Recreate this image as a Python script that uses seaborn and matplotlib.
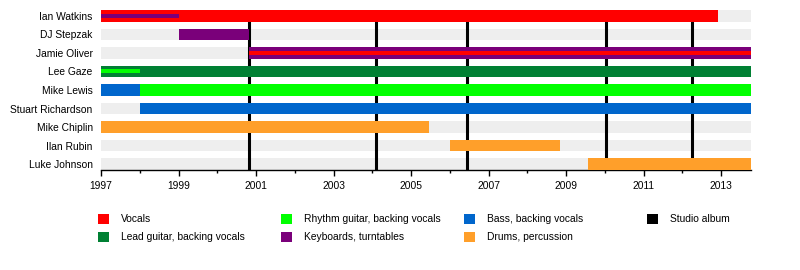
import matplotlib
matplotlib.use("Agg")
import matplotlib.pyplot as plt
from matplotlib.patches import Rectangle
import pandas as pd
import seaborn as sns

# Band members, top to bottom
members = ["Ian Watkins", "DJ Stepzak", "Jamie Oliver", "Lee Gaze", "Mike Lewis",
           "Stuart Richardson", "Mike Chiplin", "Ilan Rubin", "Luke Johnson"]

# Roles and their colours
roles = ["Vocals", "Lead guitar, backing vocals", "Rhythm guitar, backing vocals",
         "Keyboards, turntables", "Bass, backing vocals", "Drums, percussion"]
role_colors = ["#FF0000", "#008033", "#00FF00", "#7A007A", "#0066CC", "#FF9F2A"]

start_year = 1997.0
end_year = 2013.77

# Main tenures: member, role, start, end
span_member = ["Ian Watkins", "DJ Stepzak", "Jamie Oliver", "Lee Gaze", "Mike Lewis",
               "Mike Lewis", "Stuart Richardson", "Mike Chiplin", "Ilan Rubin", "Luke Johnson"]
span_role = ["Vocals", "Keyboards, turntables", "Keyboards, turntables",
             "Lead guitar, backing vocals", "Bass, backing vocals",
             "Rhythm guitar, backing vocals", "Bass, backing vocals",
             "Drums, percussion", "Drums, percussion", "Drums, percussion"]
span_start = [1997.0, 1999.0, 2000.81, 1997.0, 1997.0, 1998.0, 1998.0, 1997.0, 2006.0, 2009.56]
span_end = [2012.92, 2000.81, end_year, end_year, 1998.0, end_year, end_year, 2005.46, 2008.85, end_year]

# Secondary roles drawn as thin bars
sub_member = ["Ian Watkins", "Jamie Oliver", "Lee Gaze"]
sub_role = ["Keyboards, turntables", "Vocals", "Rhythm guitar, backing vocals"]
sub_start = [1997.0, 2000.81, 1997.0]
sub_end = [1999.0, end_year, 1998.0]

# Studio album release dates
albums = [2000.81, 2004.09, 2006.45, 2010.04, 2012.24]

spans = pd.DataFrame({"member": span_member, "role": span_role,
                      "start": span_start, "end": span_end})
subs = pd.DataFrame({"member": sub_member, "role": sub_role,
                     "start": sub_start, "end": sub_end})
palette = dict(zip(roles, role_colors))
row = {m: i for i, m in enumerate(members)}

sns.set_theme(style="white")
plt.rcParams["font.family"] = ["Liberation Sans", "DejaVu Sans"]

fig = plt.figure(figsize=(8, 2.7), dpi=100)
ax = fig.add_axes([101 / 800, 1 - 170 / 270, 650 / 800, 160 / 270])

bar_h = 0.625
thin_h = 0.22
fs = 7.4

# Light grey track behind every member
ax.barh([row[m] for m in members], end_year - start_year, left=start_year,
        height=bar_h, color="#EEEEEE", edgecolor="none", linewidth=0, zorder=1)

# Album release markers
ax.vlines(albums, -0.5, 8.5, colors="black", linewidth=2.2, zorder=2)

for _, r in spans.iterrows():
    ax.barh(row[r.member], r.end - r.start, left=r.start, height=bar_h,
            color=palette[r.role], edgecolor="none", linewidth=0, zorder=3)
for _, r in subs.iterrows():
    ax.barh(row[r.member], r.end - r.start, left=r.start, height=thin_h,
            color=palette[r.role], edgecolor="none", linewidth=0, zorder=4)

ax.set_xlim(start_year, end_year)
ax.set_ylim(8.31, -0.31)
ax.set_yticks(range(len(members)))
ax.set_yticklabels(members)
ax.set_xticks(range(1997, 2014, 2))
ax.set_xticks(range(1997, 2014), minor=True)
ax.tick_params(axis="y", length=0, pad=6, labelsize=fs, colors="black")
ax.tick_params(axis="x", which="major", length=4, width=1, pad=4,
               labelsize=fs, colors="black", bottom=True)
ax.tick_params(axis="x", which="minor", length=2, width=1, bottom=True,
               color="black")
for side in ["top", "right", "left"]:
    ax.spines[side].set_visible(False)
ax.spines["bottom"].set_color("black")
ax.spines["bottom"].set_linewidth(1)
ax.grid(False)

# Legend laid out in four fixed-width columns
legend_labels = roles + ["Studio album"]
legend_colors = role_colors + ["#000000"]
legend_cells = [(0, 0), (0, 1), (1, 0), (1, 1), (2, 0), (2, 1), (3, 0)]
for lab, col, (c, rr) in zip(legend_labels, legend_colors, legend_cells):
    x0 = 98 + 183 * c
    yc = 219 + 18 * rr
    fig.add_artist(Rectangle((x0 / 800, 1 - (yc + 5) / 270), 11 / 800, 10 / 270,
                             transform=fig.transFigure, facecolor=col,
                             edgecolor="none"))
    fig.text((x0 + 23) / 800, 1 - yc / 270, lab, fontsize=fs, va="center",
             ha="left", color="black")

fig.savefig("out.png", dpi=100)
